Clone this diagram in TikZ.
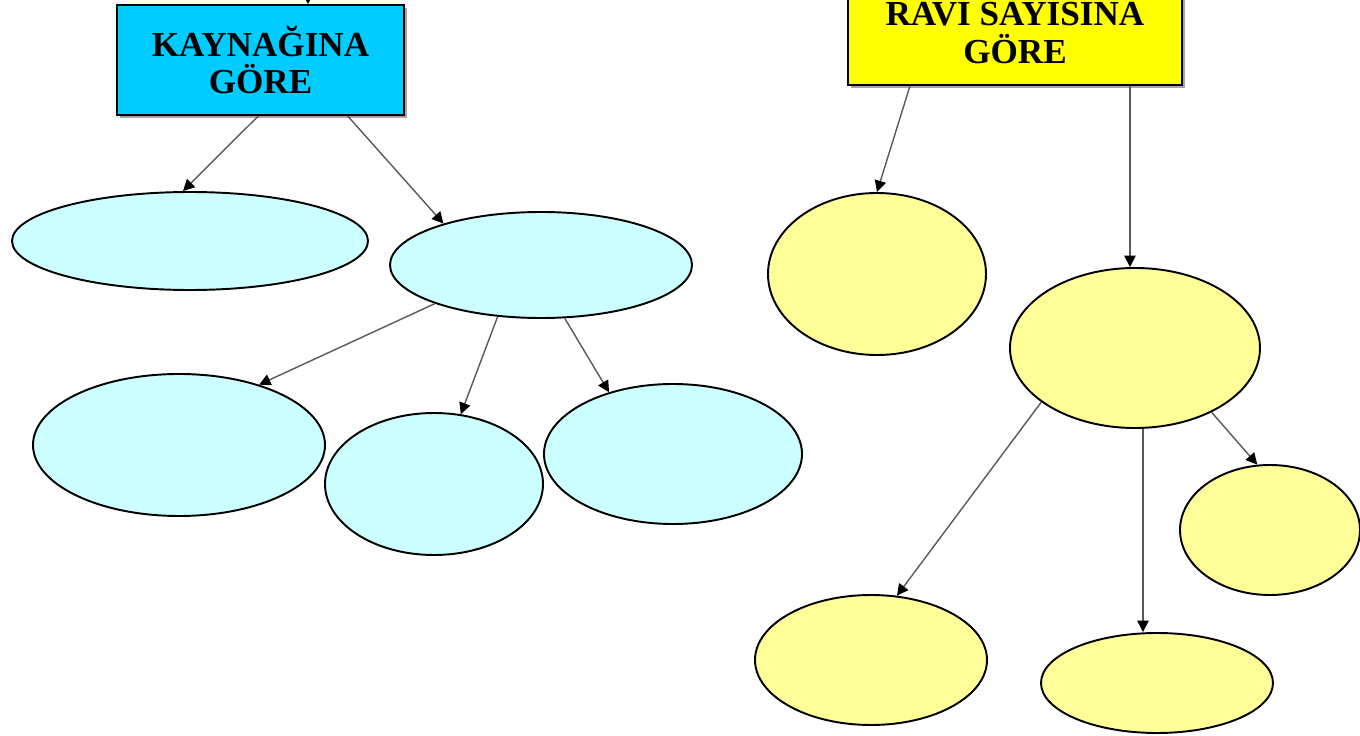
\documentclass[tikz,border=0pt]{standalone}
\usepackage{fontspec}
\setmainfont{Liberation Serif}
\usetikzlibrary{arrows.meta,shapes.geometric,shadows}
\definecolor{kaycyan}{RGB}{0,204,255}
\definecolor{acikcyan}{RGB}{204,255,255}
\definecolor{raviyellow}{RGB}{255,255,0}
\definecolor{acikyellow}{RGB}{255,255,153}

\begin{document}
\begin{tikzpicture}[x=0.02cm, y=-0.02cm,
	baslik/.style={draw=black, line width=0.9pt, align=center, inner sep=0pt,
		font=\bfseries\fontsize{20}{21.5}\selectfont,
		drop shadow={shadow xshift=1.6pt, shadow yshift=-1.6pt, fill=black!35, opacity=1}},
	elips/.style n args={3}{ellipse, draw=black, line width=1.1pt, fill=#1,
		inner sep=0pt, minimum width=#2*0.02cm, minimum height=#3*0.02cm},
	ok/.style={line width=0.8pt, color=black!65, -{Triangle[length=6.5pt,width=6.5pt,color=black]}}]
		%%%%% START %%%%%
		\useasboundingbox (0, 0) rectangle (1360, 736);
		
		% basliklar
		\node[baslik, fill=kaycyan, minimum width=5.74cm, minimum height=2.2cm] (kaynak) at (260.5, 60) {KAYNAĞINA\\GÖRE};
		\node[baslik, fill=raviyellow, minimum width=6.68cm, minimum height=2.2cm] (ravi) at (1015, 30) {RAVİ SAYISINA\\GÖRE};
		\coordinate (ust) at (308, -40);
		\draw[ok] (ust) -- (ust |- kaynak.north);
		
		% kaynagina gore
		\node[elips={acikcyan}{356}{98}] (k1) at (190, 241) {};
		\node[elips={acikcyan}{302}{106}] (k2) at (541, 265) {};
		\node[elips={acikcyan}{292}{142}] (k3) at (179, 445) {};
		\node[elips={acikcyan}{218}{142}] (k4) at (434, 484) {};
		\node[elips={acikcyan}{258}{140}] (k5) at (673, 454) {};
		
		\draw[ok] ([xshift=-0.04cm]kaynak.south) -- (k1.98);
		\draw[ok] ([xshift=1.74cm]kaynak.south) -- (k2.157);
		\draw[ok] (k2.200) -- (k3.37);
		\draw[ok] (k2.230) -- (k4.69);
		\draw[ok] (k2.294) -- (k5.136);
		
		% ravi sayisina gore
		\node[elips={acikyellow}{218}{162}] (r1) at (877, 274) {};
		\node[elips={acikyellow}{250}{160}] (r2) at (1135, 348) {};
		\node[elips={acikyellow}{180}{130}] (r3) at (1270, 530) {};
		\node[elips={acikyellow}{232}{130}] (r4) at (871, 660) {};
		\node[elips={acikyellow}{232}{100}] (r5) at (1157, 683) {};
		
		\draw[ok] ([xshift=-2.1cm]ravi.south) -- (r1.north);
		\draw[ok] ([xshift=2.3cm]ravi.south) -- ([xshift=2.3cm]ravi.south |- r2.north);
		\draw[ok] (r2.210) -- (r4.68);
		\draw[ok] ([xshift=0.16cm]r2.south) -- ([xshift=0.16cm]r2.south |- r5.north);
		\draw[ok] (r2.320) -- (r3.101);
		%%%%% END %%%%%
\end{tikzpicture}
\end{document}
